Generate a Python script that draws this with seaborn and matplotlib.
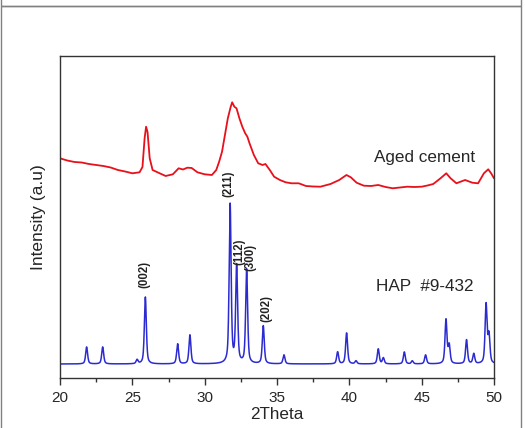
import numpy as np
import pandas as pd
import matplotlib
matplotlib.use('Agg')
import matplotlib.pyplot as plt
from matplotlib.patches import Rectangle
import seaborn as sns

# HAP reference pattern (#9-432): peak positions, heights above baseline
hap_pos = [21.84, 22.95, 25.33, 25.90, 28.13, 28.98, 31.76, 32.21, 32.90, 34.05,
           35.48, 39.19, 39.81, 40.46, 42.00, 42.35, 43.80, 44.35, 45.27, 46.68,
           46.90, 48.10, 48.60, 49.45, 49.65]
hap_height = [17, 17, 4, 67, 20, 29, 159, 97, 94, 38,
              9, 12, 31, 3, 15, 6, 12, 3, 9, 44,
              18, 24, 10, 59, 28]
hap_baseline = 14

# aged cement trace
cem_theta = [20.0, 20.5, 21.0, 21.5, 22.0, 22.5, 23.0, 23.5, 24.0, 24.5, 25.0, 25.5,
             25.7, 25.85, 25.95, 26.05, 26.2, 26.4, 26.8, 27.3, 27.8, 28.2, 28.5,
             28.8, 29.1, 29.5, 30.0, 30.5, 30.8, 31.0, 31.2, 31.4, 31.6, 31.8,
             31.9, 32.05, 32.2, 32.4, 32.6, 32.8, 32.95, 33.1, 33.4, 33.7, 34.0,
             34.2, 34.5, 34.8, 35.2, 35.6, 36.0, 36.5, 37.0, 37.5, 38.0, 38.7,
             39.3, 39.8, 40.1, 40.5, 41.0, 41.5, 42.0, 42.5, 43.0, 43.5, 44.0,
             44.5, 45.0, 45.4, 45.8, 46.3, 46.7, 47.0, 47.4, 48.0, 48.5, 48.9,
             49.3, 49.6, 49.8, 50.0]
cem_int = [219.7, 217.5, 216.0, 215.5, 214.0, 213.0, 212.0, 210.5, 208.0, 206.5, 204.7, 205.7,
           211.0, 240.0, 251.3, 246.0, 219.7, 208.0, 205.3, 202.0, 203.7, 209.7, 208.5,
           210.3, 210.0, 205.7, 203.7, 203.0, 208.0, 216.3, 226.3, 243.0, 259.7, 271.3,
           275.7, 271.3, 269.7, 259.7, 251.3, 244.7, 241.3, 234.7, 223.0, 214.7, 213.0,
           214.0, 208.0, 201.3, 198.0, 195.7, 194.7, 194.7, 192.0, 191.5, 191.3, 194.0,
           198.0, 203.0, 200.7, 195.3, 192.3, 192.0, 193.0, 191.0, 189.7, 190.5, 191.3,
           191.0, 191.3, 192.5, 194.0, 199.7, 204.7, 199.7, 194.7, 198.0, 195.3, 194.7,
           204.7, 208.7, 204.7, 199.7]

tick_vals = [20, 25, 30, 35, 40, 45, 50]

# hkl labels: (text, x, y of label bottom)
hkl_text = ['(002)', '(211)', '(112)', '(300)', '(202)']
hkl_x = [25.83, 31.61, 32.37, 33.18, 34.28]
hkl_y = [90, 181, 113, 107, 56]

# build the HAP profile from the peak table (pseudo-Voigt shape)
theta = np.linspace(20, 50, 4001)
hap = np.full_like(theta, hap_baseline, dtype=float)
w = 0.16
for p, h in zip(hap_pos, hap_height):
    d = (theta - p) / (w / 2)
    lor = 1 / (1 + d ** 2)
    gau = np.exp(-np.log(2) * d ** 2)
    hap += h * (0.55 * lor + 0.45 * gau)

hap_df = pd.DataFrame({'theta': theta, 'intensity': hap})
cem_df = pd.DataFrame({'theta': cem_theta, 'intensity': cem_int})

sns.set_style('white')
plt.rcParams['font.family'] = ['Liberation Sans', 'DejaVu Sans']

fig = plt.figure(figsize=(5.25, 4.28), dpi=100)
ax = fig.add_axes([0.1143, 0.1168, 0.8267, 0.7524])

sns.lineplot(data=cem_df, x='theta', y='intensity', color='#e8101a', lw=1.3, ax=ax)
sns.lineplot(data=hap_df, x='theta', y='intensity', color='#2b2bd1', lw=1.1, ax=ax)

ax.set_xlim(20, 50)
ax.set_ylim(0, 322)
ax.set_xticks(tick_vals)
ax.set_xticks(np.arange(22.5, 50, 5), minor=True)
ax.set_yticks([])
ax.tick_params(axis='x', which='major', direction='out', length=5, width=1,
               color='#333333', labelsize=11, pad=4, bottom=True)
ax.tick_params(axis='x', which='minor', direction='out', length=3, width=1,
               color='#333333', bottom=True)
for s in ax.spines.values():
    s.set_color('#333333')
    s.set_linewidth(1.0)

ax.set_xlabel('2Theta', fontsize=12.3, labelpad=2)
ax.set_ylabel('Intensity (a.u)', fontsize=12.5, labelpad=10)

ax.text(41.7, 220, 'Aged cement', fontsize=12.3, ha='left', va='center')
ax.text(41.85, 92, 'HAP  #9-432', fontsize=12.3, ha='left', va='center')
for t, x, y in zip(hkl_text, hkl_x, hkl_y):
    ax.text(x, y, t, fontsize=8.3, fontweight='bold', rotation=90,
            ha='center', va='bottom', color='#222222')

# surrounding panel frames
fig.patches.append(Rectangle((0.001, -0.05), 0.991, 0.9857 + 0.05, transform=fig.transFigure,
                             fill=False, edgecolor='#808080', lw=1.0))
fig.patches.append(Rectangle((0.001, 0.986), 0.991, 0.1, transform=fig.transFigure,
                             fill=False, edgecolor='#808080', lw=1.0))

fig.savefig('out.png', dpi=100)
